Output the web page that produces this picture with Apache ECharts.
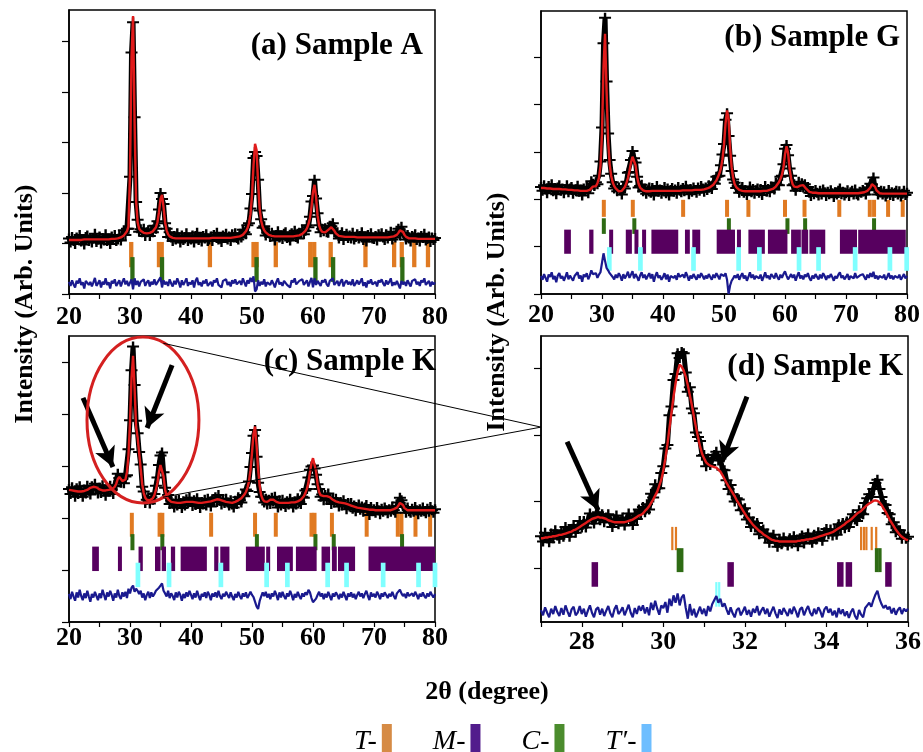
<!DOCTYPE html>
<html>
<head>
<meta charset="utf-8">
<script src="https://cdn.jsdelivr.net/npm/echarts@6/dist/echarts.min.js"></script>
<style>
html, body { margin: 0; padding: 0; background: #fff; }
#chart { width: 923px; height: 752px; }
</style>
</head>
<body>
<div id="chart"></div>
<script>
// scan grids (2theta, degree)
const wideStart = 20, wideStep = 0.25
const zoomStart = 27, zoomStep = 0.05
const xLabelsWide = [20, 30, 40, 50, 60, 70, 80]
const xLabelsZoom = [28, 30, 32, 34, 36]

// (a) Sample A - calculated profile, one value per 0.25 deg from 20
const calcA = [
  1.07,1.07,1.07,1.07, 1.07,1.07,1.07,1.07, 1.07,1.07,1.08,1.08, 1.08,1.08,1.08,1.08,
  1.08,1.08,1.08,1.08, 1.08,1.08,1.08,1.08, 1.08,1.08,1.08,1.09, 1.09,1.09,1.09,1.10,
  1.10,1.11,1.12,1.14, 1.16,1.19,1.24,1.34, 2.40,4.70,5.50,3.40, 1.85,1.42,1.29,1.25,
  1.22,1.21,1.20,1.20, 1.20,1.21,1.22,1.24, 1.27,1.32,1.42,1.62, 1.88,1.96,1.72,1.42,
  1.26,1.18,1.14,1.12, 1.11,1.10,1.10,1.10, 1.10,1.10,1.10,1.10, 1.10,1.10,1.10,1.10,
  1.10,1.10,1.10,1.10, 1.10,1.10,1.10,1.10, 1.10,1.10,1.10,1.10, 1.10,1.11,1.11,1.11,
  1.11,1.11,1.11,1.11, 1.11,1.11,1.11,1.11, 1.11,1.11,1.11,1.12, 1.12,1.12,1.13,1.13,
  1.14,1.15,1.17,1.20, 1.24,1.30,1.40,1.58, 1.95,2.55,2.97,2.85, 2.20,1.70,1.45,1.33,
  1.26,1.22,1.19,1.17, 1.16,1.15,1.15,1.14, 1.14,1.14,1.14,1.14, 1.14,1.14,1.14,1.14,
  1.14,1.14,1.14,1.14, 1.15,1.15,1.15,1.16, 1.17,1.19,1.21,1.25, 1.30,1.38,1.50,1.72,
  2.02,2.16,1.92,1.55, 1.36,1.27,1.23,1.22, 1.22,1.24,1.27,1.30, 1.32,1.30,1.25,1.20,
  1.17,1.15,1.14,1.14, 1.13,1.13,1.13,1.13, 1.13,1.13,1.13,1.13, 1.13,1.12,1.12,1.12,
  1.12,1.12,1.12,1.12, 1.12,1.12,1.12,1.12, 1.12,1.12,1.12,1.12, 1.12,1.12,1.12,1.12,
  1.12,1.12,1.12,1.13, 1.13,1.14,1.15,1.17, 1.21,1.26,1.28,1.23, 1.17,1.13,1.11,1.10,
  1.10,1.10,1.10,1.10, 1.09,1.09,1.09,1.09, 1.09,1.09,1.09,1.09, 1.09,1.09,1.09,1.09,
  1.09
]
// observed - calculated, in units of 0.01
const diffA = [
  3,-5,6,-2, -8,5,0,10, -3,2,-10,5, 8,-3,3,-6, 2,11,-5,0, 6,-8,3,-2, 10,-3,2,-10, 5,0,8,-5,
  -2,6,-6,3, 10,-2,5,-5, -8,8,-12,10, -3,5,-6,3, 0,8,-5,2, 6,-6,3,-2, 8,-3,2,5, 12,-8,6,-2,
  3,-5,8,0, -6,5,-2,10, 2,-8,6,-3, 3,10,-5,2, -2,6,-8,5, 11,-3,2,-6, 5,0,8,-5, -2,3,-6,6,
  2,10,-3,0, -8,5,2,8, -3,3,-6,6, 0,8,-2,-5, 5,-3,10,2, -6,6,0,11, 3,14,-16,-12, 6,-5,3,-2,
  8,-6,2,5, -3,6,0,-8, 3,10,-2,2, -5,5,8,-3, 0,-8,6,2, 10,-2,-5,5, 2,8,-3,0, 6,-6,3,11,
  -8,10,-3,5, 0,-5,6,2, 8,-2,-6,5, 2,10,-3,0, 5,-5,3,8, -6,2,6,-2, 3,-3,8,-5, 0,6,-2,3,
  10,-5,2,-8, 5,0,8,-2, -3,3,-6,6, 2,8,0,-5, 6,-2,3,10, -5,2,-3,5, 8,-10,5,-2, 3,-5,6,0,
  -6,5,2,8, -2,3,-5,6, 2,10,-3,0, 5,-6,3,-2, 2
]

// (b) Sample G
const calcB = [
  2.24,2.24,2.24,2.23, 2.23,2.23,2.23,2.22, 2.22,2.22,2.22,2.22, 2.22,2.21,2.21,2.21,
  2.21,2.20,2.20,2.20, 2.20,2.20,2.19,2.19, 2.19,2.19,2.18,2.18, 2.18,2.18,2.18,2.18,
  2.20,2.24,2.27,2.26, 2.28,2.34,2.45,2.70, 3.40,4.80,5.50,4.30, 3.25,2.75,2.50,2.36,
  2.28,2.23,2.19,2.17, 2.17,2.18,2.21,2.26, 2.34,2.45,2.60,2.78, 2.90,2.90,2.72,2.48,
  2.33,2.25,2.21,2.19, 2.18,2.17,2.17,2.17, 2.17,2.18,2.18,2.18, 2.18,2.18,2.18,2.18,
  2.18,2.18,2.18,2.18, 2.18,2.18,2.18,2.18, 2.18,2.18,2.18,2.18, 2.18,2.19,2.19,2.19,
  2.19,2.19,2.19,2.19, 2.19,2.20,2.20,2.20, 2.20,2.20,2.21,2.21, 2.22,2.23,2.24,2.26,
  2.28,2.31,2.35,2.40, 2.47,2.55,2.66,2.85, 3.15,3.60,3.88,3.70, 3.10,2.68,2.45,2.32,
  2.26,2.22,2.20,2.19, 2.18,2.17,2.17,2.17, 2.17,2.17,2.17,2.17, 2.17,2.17,2.17,2.17,
  2.17,2.17,2.18,2.18, 2.18,2.19,2.20,2.21, 2.22,2.24,2.27,2.31, 2.36,2.43,2.52,2.68,
  2.95,3.12,2.98,2.65, 2.44,2.32,2.27,2.26, 2.26,2.27,2.29,2.31, 2.30,2.27,2.22,2.18,
  2.16,2.15,2.14,2.14, 2.14,2.14,2.13,2.13, 2.13,2.13,2.13,2.13, 2.13,2.13,2.13,2.13,
  2.13,2.13,2.13,2.13, 2.13,2.13,2.13,2.13, 2.13,2.13,2.13,2.13, 2.13,2.13,2.13,2.13,
  2.13,2.13,2.14,2.14, 2.15,2.16,2.18,2.21, 2.25,2.32,2.35,2.27, 2.19,2.15,2.13,2.12,
  2.12,2.12,2.12,2.12, 2.12,2.12,2.12,2.12, 2.12,2.12,2.12,2.12, 2.12,2.12,2.12,2.12,
  2.12
]
const diffB = [
  2,-6,6,-2, -10,5,0,10, -5,2,-11,3, 8,-3,2,-8, 0,10,-5,3, 6,-8,2,-2, 10,-3,3,-10, 5,0,8,-5,
  3,14,6,2, 8,-2,5,10, 12,50,34,19, 14,8,4,0, -5,5,-2,8, 2,-8,6,-3, 3,11,-2,5, 12,-3,6,0,
  -8,3,10,-2, 5,-5,2,8, -3,6,-10,2, 10,-2,3,-6, 0,8,-5,5, -10,2,6,-2, 3,-6,8,0, -3,5,-2,10,
  2,-8,3,-3, 6,0,-6,5, -2,8,2,-5, 3,-3,6,0, -6,5,-2,8, 2,-5,6,10, 2,8,-6,-36, -18,-8,-3,3,
  -2,6,-6,2, 8,-3,3,-8, 0,10,-2,5, -5,2,6,-3, 5,-8,0,10, -2,3,-5,6, 2,-3,8,0, -6,5,-2,6,
  12,3,-5,0, 6,-2,5,-8, 2,10,-3,3, -5,5,0,8, -2,-8,3,-3, 6,0,-5,5, -3,8,2,-6, 3,-2,6,0,
  -8,2,-3,5, 10,-2,3,-5, 0,6,-6,2, 5,-3,8,-2, -5,3,0,6, 2,-6,5,-2, 8,0,11,-3, 3,-5,2,6,
  -2,5,-6,0, 8,-3,3,-5, 2,6,-2,5, -6,0,6,-3, 2
]

// (c) Sample K
const calcC = [
  2.54,2.54,2.53,2.53, 2.52,2.52,2.51,2.51, 2.51,2.51,2.52,2.53, 2.54,2.56,2.58,2.59,
  2.60,2.60,2.59,2.57, 2.55,2.54,2.53,2.53, 2.53,2.53,2.54,2.54, 2.55,2.57,2.60,2.66,
  2.75,2.79,2.76,2.71, 2.70,2.74,2.88,3.20, 3.85,4.70,5.12,4.50, 3.75,3.55,3.25,2.95,
  2.65,2.48,2.39,2.35, 2.34,2.34,2.35,2.38, 2.44,2.54,2.68,2.88, 3.02,3.04,2.80,2.55,
  2.42,2.36,2.33,2.31, 2.30,2.30,2.29,2.29, 2.29,2.29,2.30,2.30, 2.30,2.31,2.31,2.31,
  2.31,2.31,2.31,2.30, 2.30,2.29,2.29,2.29, 2.29,2.30,2.30,2.31, 2.31,2.32,2.33,2.34,
  2.35,2.36,2.36,2.35, 2.34,2.33,2.32,2.31, 2.30,2.30,2.29,2.29, 2.30,2.31,2.32,2.34,
  2.36,2.38,2.41,2.45, 2.50,2.58,2.70,2.92, 3.25,3.62,3.76,3.40, 2.95,2.62,2.44,2.36,
  2.32,2.31,2.31,2.33, 2.35,2.36,2.35,2.33, 2.31,2.30,2.29,2.29, 2.29,2.29,2.29,2.29,
  2.29,2.29,2.30,2.30, 2.30,2.31,2.32,2.33, 2.35,2.38,2.42,2.48, 2.56,2.68,2.88,3.05,
  3.15,3.12,2.90,2.65, 2.50,2.44,2.42,2.42, 2.42,2.42,2.41,2.40, 2.37,2.35,2.33,2.32,
  2.31,2.30,2.29,2.29, 2.28,2.28,2.27,2.26, 2.25,2.24,2.23,2.22, 2.21,2.20,2.20,2.19,
  2.19,2.18,2.18,2.17, 2.17,2.16,2.16,2.16, 2.15,2.15,2.15,2.15, 2.15,2.15,2.15,2.15,
  2.15,2.15,2.15,2.15, 2.16,2.17,2.18,2.20, 2.24,2.29,2.31,2.25, 2.19,2.16,2.15,2.15,
  2.15,2.15,2.15,2.15, 2.15,2.15,2.15,2.15, 2.15,2.15,2.15,2.15, 2.15,2.15,2.15,2.15,
  2.15
]
const diffC = [
  2,-8,6,-3, -11,5,-5,10, -2,-10,3,-6, 8,-3,-13,2, -5,6,-2,-10, 3,-6,10,0, -10,5,-3,8, 0,-11,3,-5,
  10,-2,-8,5, -3,6,-6,12, 3,14,18,6, 12,8,2,8, -5,3,-10,0, 6,-6,5,-3, 2,8,10,14, 18,22,8,3,
  -3,8,-6,3, -2,-10,5,-5, 6,0,-11,2, -6,5,-3,8, 0,-8,3,-5, 8,-2,-10,2, -3,5,-6,6, 0,-10,3,-3,
  5,-5,8,-2, -8,2,-3,6, 0,-6,5,-3, -10,2,-5,6, -2,-8,3,-3, 5,-6,0,6, 0,-4,-7,-22, -27,-12,-3,5,
  -2,6,-5,2, -8,3,-3,8, 0,-10,5,-5, 6,-2,-8,3, -3,8,0,-10, 2,-5,6,-2, -8,3,-3,5, 0,10,5,-6,
  -14,-17,-7,0, 6,-3,3,-8, 2,-5,6,-2, -10,3,-3,5, 0,-8,2,-5, 6,-2,-10,3, -3,5,-5,2, -8,0,6,-3,
  3,-6,2,8, -2,-10,5,-3, 2,-5,6,0, -8,3,-3,5, 0,-6,2,-3, 6,-2,-8,3, 6,10,3,-2, 2,-6,5,-2,
  -5,3,-3,6, 0,-8,2,-3, 5,-2,-6,3, -3,6,0,-5, 2
]

// (d) Sample K, 27-36 deg, one value per 0.05 deg
const calcD = [
  .45,.45,.46,.46,.47,.47,.48,.48,.49,.50, .50,.51,.52,.53,.54,.55,.57,.58,.60,.62,
  .64,.66,.68,.70,.72,.74,.75,.76,.77,.76, .76,.75,.74,.72,.71,.70,.69,.69,.69,.69,
  .69,.69,.70,.71,.72,.73,.75,.77,.79,.80, .82,.86,.89,.93,.98,1.03,1.09,1.15,1.24,1.33,
  1.47,1.65,1.86,2.10,2.34,2.58,2.78,2.95,3.06,3.03, 2.97,2.88,2.75,2.60,2.45,2.28,2.12,1.97,1.83,1.72,
  1.65,1.59,1.56,1.54,1.53,1.52,1.51,1.48,1.45,1.40, 1.34,1.28,1.23,1.18,1.13,1.08,1.02,.97,.92,.87,
  .82,.77,.73,.69,.65,.62,.59,.56,.54,.51, .49,.47,.45,.43,.42,.41,.41,.40,.40,.40,
  .40,.40,.40,.40,.40,.40,.41,.41,.42,.42, .43,.43,.44,.44,.45,.46,.47,.48,.49,.50,
  .51,.52,.53,.54,.56,.58,.60,.62,.64,.66, .69,.71,.73,.76,.79,.82,.84,.86,.89,.92,
  .95,.97,.99,1.01,1.02,1.01,.99,.95,.90,.85, .79,.73,.68,.63,.58,.54,.50,.47,.45,.43,
  .42
]
const diffD = [
  3,-5,7,-1,-8,5,-3,9,0,-6, 6,-4,10,1,-7,4,8,-5,-1,9,
  -3,5,-7,2,10,-1,-8,4,7,-4, 5,-6,2,9,-2,-8,4,10,-3,1,
  7,-5,3,11,-1,-8,6,-3,9,2, 10,-2,7,-5,14,3,17,5,-4,10,
  6,15,-1,20,9,25,14,28,10,22, 26,6,-10,12,-5,5,-8,0,8,-3,
  5,-6,9,1,12,18,24,14,20,8, 13,4,-4,7,-2,-8,3,6,-5,1,
  8,-4,3,-7,5,-1,9,-5,2,7, -3,5,-7,1,8,-2,-9,4,-4,6,
  0,-6,5,-3,8,1,-8,4,7,-5, 3,9,-1,-6,5,-3,7,1,-8,4,
  8,-1,5,-5,2,-8,6,-3,4,-6, 1,-9,0,5,-6,-11,3,-4,-8,6,
  10,14,8,18,26,32,20,12,6,10, 4,8,-2,6,-4,3,7,-3,5,1,
  5
]

// Bragg reflection positions (deg); pairs are merged clusters [from, to]
const tA = [30.2, 34.75, 35.2, 43.1, 50.25, 50.75, 53.9, 59.55, 60.2, 62.9, 68.6, 73.3, 74.55, 76.6, 78.85]
const cA = [30.4, 35.25, 50.75, 60.4, 63.3, 74.65]
const tB = [30.3, 35.05, 43.3, 50.5, 54.0, 60.0, 63.2, 68.9, 73.9, 74.6, 76.9, 79.3]
const cB = [30.3, 35.3, 50.8, 60.4, 63.3, 74.6]
const mB = [[23.8, 24.9], [27.9, 28.6], [31.2, 31.8], [33.9, 34.9], [35.4, 35.9], [36.6, 37.2], [38.1, 42.5],
  [43.6, 44.4], [44.8, 46.1], [48.8, 51.8], [52.2, 52.7], [54.0, 56.7], [57.2, 60.4], [61.0, 62.6],
  [62.7, 63.8], [64.0, 66.6], [69.0, 71.8], [72.0, 79.8]]
const tpB = [31.2, 36.3, 45.0, 52.4, 55.8, 62.3, 65.5, 71.5, 77.2, 79.95]
const tC = [30.3, 34.85, 35.3, 43.3, 50.5, 53.9, 59.75, 60.25, 63.1, 68.8, 73.9, 74.5, 76.8, 79.2]
const cC = [30.4, 35.3, 50.8, 60.4, 63.4, 74.6]
const mC = [[23.8, 24.9], [28.1, 28.6], [31.4, 32.1], [34.1, 35.0], [35.2, 35.9], [36.7, 37.4], [38.3, 42.6],
  [43.8, 44.5], [44.8, 46.3], [49.0, 52.1], [52.4, 52.9], [54.1, 56.7], [57.2, 60.6], [61.4, 62.8],
  [63.1, 63.9], [64.1, 66.9], [69.1, 80]]
const tpC = [31.3, 36.4, 44.9, 52.4, 55.8, 62.4, 65.5, 71.5, 77.3, 80.0]
const tD = [30.22, 30.31, 34.85, 34.92, 34.98, 35.11, 35.22]
const cD = [30.37, 30.45, 35.23, 35.31]
const mD = [28.32, 31.65, 34.34, 34.55, 35.52]
const tpD = [31.30, 31.37]

const phases = ['T', 'M', 'C', 'T′']
const phaseColor = {'T': '#E07A22', 'M': '#57005F', 'C': '#2E6B14', 'T′': '#80FFFF'}
const legendColor = {'T': '#D68B45', 'M': '#521C8C', 'C': '#4B8C2D', 'T′': '#6EBEFF'}

const SERIF = '"Liberation Serif", "Times New Roman", serif'
const CROSS = 'path://M0,4H10V6H0Z M4,0H6V10H4Z'

const panels = [
  {title: '(a) Sample A', titleAt: [423, 46], rect: [69, 10, 366, 284],
   calc: calcA, diff: diffA, start: wideStart, step: wideStep, diffBase: 0.21,
   x: [20, 80, 5], xLabels: xLabelsWide, y: [0, 5.62], yTicks: [0, 1, 2, 3, 4, 5], labelMargin: 10,
   rows: [{phase: 'T', items: tA, y: [1.03, 0.53], w: 4.3}, {phase: 'C', items: cA, y: [0.73, 0.24], w: 4.3}]},
  {title: '(b) Sample G', titleAt: [900, 38], rect: [541, 11, 366, 283],
   calc: calcB, diff: diffB, start: wideStart, step: wideStep, diffBase: 0.36,
   x: [20, 80, 5], xLabels: xLabelsWide, y: [0, 5.98], yTicks: [0, 1, 2, 3, 4, 5], labelMargin: 8,
   rows: [{phase: 'T', items: tB, y: [1.99, 1.63], w: 4}, {phase: 'C', items: cB, y: [1.60, 1.27], w: 4},
          {phase: 'M', items: mB, y: [1.36, 0.85], w: 4}, {phase: 'T′', items: tpB, y: [0.99, 0.49], w: 4.7}]},
  {title: '(c) Sample K', titleAt: [436, 362], rect: [69, 336, 366, 286],
   calc: calcC, diff: diffC, start: wideStart, step: wideStep, diffBase: 0.52,
   x: [20, 80, 5], xLabels: xLabelsWide, y: [0, 5.5], yTicks: [0, 1, 2, 3, 4, 5], labelMargin: 3,
   rows: [{phase: 'T', items: tC, y: [2.10, 1.64], w: 4}, {phase: 'C', items: cC, y: [1.69, 1.38], w: 4},
          {phase: 'M', items: mC, y: [1.45, 0.98], w: 4}, {phase: 'T′', items: tpC, y: [1.14, 0.67], w: 4.7}],
   arrows: [[[22.3, 4.31], [27.2, 2.98]], [[36.9, 4.94], [32.8, 3.73]]]},
  {title: '(d) Sample K', titleAt: [903, 367], rect: [541, 336, 367, 286],
   calc: calcD, diff: diffD, start: zoomStart, step: zoomStep, diffBase: -0.66,
   x: [27, 36, 1], xLabels: xLabelsZoom, y: [-0.81, 3.49], yTicks: [0, 1, 2, 3], labelMargin: 7,
   rows: [{phase: 'T', items: tD, y: [0.62, 0.27], w: 2.2}, {phase: 'C', items: cD, y: [0.30, -0.06], w: 3.5},
          {phase: 'M', items: mD, y: [0.09, -0.28], w: 6.5}, {phase: 'T′', items: tpD, y: [-0.21, -0.58], w: 2.2}],
   arrows: [[[27.64, 1.90], [28.40, 0.87]], [[32.05, 2.58], [31.44, 1.60]]]}
]

// zoom annotation: ellipse in (c), lines from it to (d)
const ellipseC = {x: [22.95, 41.3], y: [2.29, 5.48]}
const linkFromC = [[35.46, 5.36], [35.4, 2.40]]
const linkToD = [27.0, 2.12]

function tickRows(row, g) {
  const color = phaseColor[row.phase]
  return {
    type: 'custom', name: row.phase, xAxisIndex: g, yAxisIndex: g, silent: true, z: 2,
    itemStyle: {color},
    encode: {x: [0, 1], y: 2},
    data: row.items.map(d => Array.isArray(d) ? [d[0], d[1], 0] : [d, d, 0]),
    renderItem: (params, api) => {
      const a = api.coord([api.value(0), row.y[0]])
      const b = api.coord([api.value(1), row.y[1]])
      const w = Math.max(b[0] - a[0], row.w)
      const cx = (a[0] + b[0]) / 2
      return {type: 'rect', shape: {x: cx - w / 2, y: a[1], width: w, height: b[1] - a[1]}, style: {fill: color}}
    }
  }
}

const grid = [], xAxis = [], yAxis = [], series = []
panels.forEach((p, g) => {
  grid.push({left: p.rect[0], top: p.rect[1], width: p.rect[2], height: p.rect[3], containLabel: false,
    outerBoundsMode: 'none', show: true, borderColor: '#000', borderWidth: 1.5, backgroundColor: 'transparent'})
  xAxis.push({type: 'value', gridIndex: g, min: p.x[0], max: p.x[1], interval: p.x[2],
    axisLine: {onZero: false, lineStyle: {color: '#000', width: 1.5}},
    axisTick: {length: 5, lineStyle: {color: '#000', width: 1.2}},
    splitLine: {show: false},
    axisLabel: {margin: p.labelMargin, color: '#000', fontFamily: SERIF, fontWeight: 'bold', fontSize: 26,
      formatter: v => p.xLabels.includes(v) ? String(v) : ''}})
  yAxis.push({type: 'value', gridIndex: g, min: p.y[0], max: p.y[1],
    axisLine: {show: true, onZero: false, lineStyle: {color: '#000', width: 1.5}},
    axisTick: {show: true, length: 7, customValues: p.yTicks, lineStyle: {color: '#000', width: 1.2}},
    axisLabel: {show: false}, splitLine: {show: false}})

  const xs = p.calc.map((_, i) => +(p.start + i * p.step).toFixed(2))
  p.rows.forEach(r => series.push(tickRows(r, g)))
  series.push({type: 'line', name: 'obs', xAxisIndex: g, yAxisIndex: g, silent: true, z: 3,
    symbol: CROSS, symbolSize: [12, 10], showAllSymbol: true, itemStyle: {color: '#000'},
    lineStyle: {color: '#000', width: 5},
    data: p.calc.map((v, i) => [xs[i], +(v + p.diff[i] / 100).toFixed(3)])})
  const calcSeries = {type: 'line', name: 'calc', xAxisIndex: g, yAxisIndex: g, silent: true, z: 4,
    showSymbol: false, symbol: 'none', lineStyle: {color: '#E01B1B', width: 2.4},
    data: p.calc.map((v, i) => [xs[i], v])}
  if (p.arrows) {
    calcSeries.markLine = {silent: true, animation: false, symbol: ['none', 'arrow'], symbolSize: [16, 20],
      label: {show: false}, lineStyle: {color: '#000', width: 5, type: 'solid'},
      data: p.arrows.map(a => [{coord: a[0]}, {coord: a[1]}])}
  }
  series.push(calcSeries)
  series.push({type: 'line', name: 'diff', xAxisIndex: g, yAxisIndex: g, silent: true, z: 4,
    showSymbol: false, symbol: 'none', lineStyle: {color: '#1A1A8F', width: 2.2},
    data: p.diff.map((d, i) => [xs[i], +(p.diffBase + d / 100).toFixed(3)])})
})

const chart = echarts.init(document.getElementById('chart'))
chart.setOption({
  animation: false,
  backgroundColor: '#fff',
  grid, xAxis, yAxis, series,
  legend: {
    data: phases.map(n => ({name: n, itemStyle: {color: legendColor[n]}})),
    left: 349, top: 719, orient: 'horizontal', align: 'right', icon: 'rect',
    itemWidth: 10, itemHeight: 36, itemGap: 41, selectedMode: false,
    formatter: n => n + '-',
    textStyle: {fontFamily: SERIF, fontStyle: 'italic', fontSize: 28, color: '#000'}
  }
})

const px = (g, p) => chart.convertToPixel({gridIndex: g}, p)
const eTL = px(2, [ellipseC.x[0], ellipseC.y[1]])
const eBR = px(2, [ellipseC.x[1], ellipseC.y[0]])
const target = px(3, linkToD)
const graphic = []
panels.forEach(p => graphic.push({type: 'text', z: 10, silent: true,
  style: {text: p.title, x: p.titleAt[0], y: p.titleAt[1], align: 'right', verticalAlign: 'middle',
    fill: '#000', font: 'bold 31px ' + SERIF}}))
;[[25, 304], [497, 312]].forEach(c => graphic.push({type: 'text', silent: true, x: c[0], y: c[1], rotation: Math.PI / 2,
  style: {text: 'Intensity (Arb. Units)', x: 0, y: 0, align: 'center', verticalAlign: 'middle',
    fill: '#000', font: 'bold 26px ' + SERIF}}))
graphic.push({type: 'text', silent: true,
  style: {text: '2θ (degree)', x: 487, y: 692, align: 'center', verticalAlign: 'middle', fill: '#000', font: 'bold 26px ' + SERIF}})
graphic.push({type: 'ellipse', silent: true, z: 10,
  shape: {cx: (eTL[0] + eBR[0]) / 2, cy: (eTL[1] + eBR[1]) / 2, rx: (eBR[0] - eTL[0]) / 2, ry: (eBR[1] - eTL[1]) / 2},
  style: {fill: 'none', stroke: '#D42020', lineWidth: 3}})
linkFromC.forEach(f => {
  const s = px(2, f)
  graphic.push({type: 'line', silent: true, z: 10, shape: {x1: s[0], y1: s[1], x2: target[0], y2: target[1]},
    style: {stroke: '#000', lineWidth: 1}})
})
chart.setOption({graphic})
</script>
</body>
</html>
